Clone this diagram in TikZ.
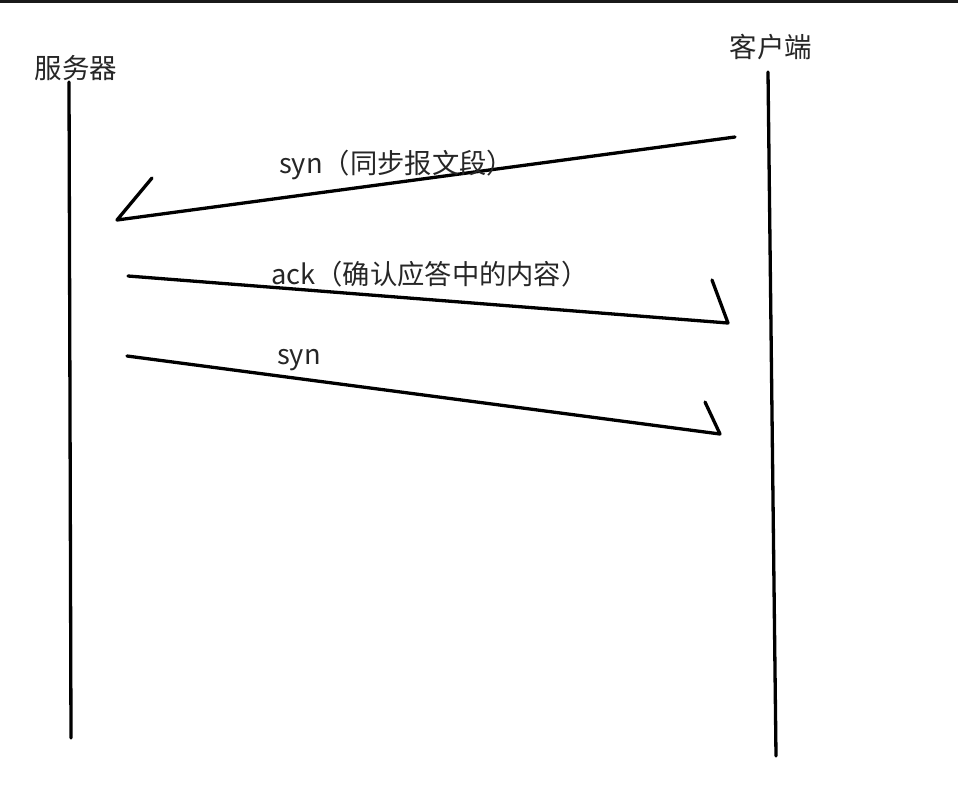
\documentclass[tikz,border=0pt]{standalone}
\usepackage{fontspec}
\setmainfont{Noto Sans CJK SC}
\begin{document}
\begin{tikzpicture}[x=1pt,y=-1pt,
  stroke/.style={line width=3.3pt,line cap=round,line join=round,black},
  lbl/.style={font=\fontsize{27.5}{30}\selectfont,inner sep=0pt,text=black!85},
  msg/.style={font=\fontsize{27.3}{30}\selectfont,inner sep=0pt,text=black!85}]
\useasboundingbox (0,0) rectangle (958,796);
\fill[black!90] (0,0) rectangle (958,2.5);
% labels
\node[lbl] (srv) at (76,68) {服务器};
\node[lbl] (cli) at (771,47) {客户端};
% lifelines
\coordinate (s1) at (69,82);
\coordinate (s2) at (71,738);
\coordinate (c1) at (768,72);
\coordinate (c2) at (776,756);
\draw[stroke] (s1) -- (s2);
\draw[stroke] (c1) -- (c2);
% message 1
\coordinate (a1) at (735,137);
\coordinate (b1) at (117,220);
\coordinate (h1) at (152,178);
\draw[stroke] (a1) -- (b1) -- (h1);
\node[msg,anchor=west] (m1) at (279,165) {syn（同步报文段）};
% message 2
\coordinate (a2) at (128,276);
\coordinate (b2) at (728,323);
\coordinate (h2) at (712,280);
\draw[stroke] (a2) -- (b2) -- (h2);
\node[msg,anchor=west] (m2) at (271,274) {ack（确认应答中的内容）};
% message 3
\coordinate (a3) at (127,356);
\coordinate (b3) at (720,434);
\coordinate (h3) at (705,402);
\draw[stroke] (a3) -- (b3) -- (h3);
\node[msg,anchor=west] (m3) at (277,360) {syn};
\end{tikzpicture}
\end{document}
